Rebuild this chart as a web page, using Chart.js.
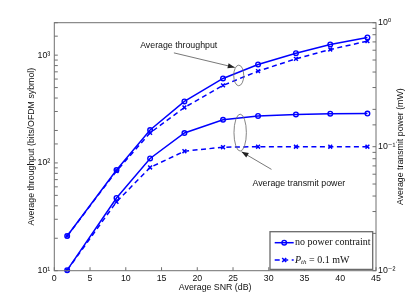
<!DOCTYPE html>
<html>
<head>
<meta charset="utf-8">
<script src="https://cdn.jsdelivr.net/npm/chart.js@4/dist/chart.umd.min.js"></script>
<style>
html,body{margin:0;padding:0;background:#fff}
#wrap{width:415px;height:306px}
</style>
</head>
<body>
<div id="wrap"><canvas id="myChart"></canvas></div>
<script>
// SNR (dB) of each simulated point
const snr = [1.8, 8.7, 13.4, 18.2, 23.6, 28.5, 33.8, 38.6, 43.8]
// throughput, bits/OFDM symbol (left axis)
const thr_free = [21, 86, 202, 372, 608, 820, 1043, 1257, 1459]
const thr_cap  = [21, 84, 190, 327, 524, 711, 924, 1129, 1349]
// transmit power, mW (right axis)
const pow_free = [0.0101, 0.0386, 0.0804, 0.129, 0.165, 0.177, 0.182, 0.1845, 0.185]
const pow_cap  = [0.0101, 0.0359, 0.068, 0.092, 0.099, 0.1, 0.1, 0.1, 0.1]

const legend_labels = ['no power contraint', 'P_th = 0.1 mW']
const x_title = 'Average SNR (dB)'
const y_title = 'Average throughput (bits/OFDM sybmol)'
const y1_title = 'Average transmit power (mW)'

const BLUE = '#0000ff'
const SANS = '"Liberation Sans", Arial, "DejaVu Sans", sans-serif'
const SERIF = '"Liberation Serif", "DejaVu Serif", serif'

const sup = {'-':'\u207B','0':'\u2070','1':'\u00B9','2':'\u00B2','3':'\u00B3'}
function pow_label(v){
    const e = Math.log10(v)
    if (Math.abs(e - Math.round(e)) > 1e-6) return ''
    return '10' + String(Math.round(e)).split('').map(c => sup[c]).join('')
}
function pts(ys){ return snr.map((x, i) => ({x: x, y: ys[i]})) }

function line_set(label, ys, axis, dashed){
    return {
        label: label,
        data: pts(ys),
        yAxisID: axis,
        borderColor: BLUE,
        backgroundColor: BLUE,
        borderWidth: 1.5,
        borderDash: dashed ? [5, 3.5] : [],
        pointStyle: dashed ? 'crossRot' : 'circle',
        pointRadius: dashed ? 2.7 : 2.3,
        pointBorderWidth: dashed ? 1.5 : 1.4,
        pointBackgroundColor: 'rgba(0,0,0,0)',
        pointBorderColor: BLUE,
        tension: 0,
        clip: false,
    }
}

// little helpers for the annotations (data coords on x / left y)
const notes = {
    thr_text: [17.4, 1219],
    thr_arrow: [[16.73, 1050], [25.25, 769]],
    thr_ellipse: [25.8, 648, 5, 10.3],
    pow_text: [27.72, 63.7],
    pow_arrow: [[30.38, 87.1], [26.19, 126.9]],
    pow_ellipse: [26.0, 191, 6.2, 18.5],
}

function arrow(ctx, x0, y0, x1, y1){
    ctx.beginPath()
    ctx.moveTo(x0, y0); ctx.lineTo(x1, y1)
    ctx.stroke()
    const a = Math.atan2(y1 - y0, x1 - x0)
    const L = 7, W = 2.6
    ctx.beginPath()
    ctx.moveTo(x1, y1)
    ctx.lineTo(x1 - L*Math.cos(a) + W*Math.sin(a), y1 - L*Math.sin(a) - W*Math.cos(a))
    ctx.lineTo(x1 - L*Math.cos(a) - W*Math.sin(a), y1 - L*Math.sin(a) + W*Math.cos(a))
    ctx.closePath()
    ctx.fill()
}

const decor = {
    id: 'decor',
    afterDraw(chart){
        const {ctx, chartArea: a, scales} = chart
        const sx = scales.x, sy = scales.y, sy1 = scales.y1
        ctx.save()

        // frame + inward ticks
        ctx.strokeStyle = '#707070'
        ctx.lineWidth = 1
        ctx.strokeRect(a.left, a.top, a.right - a.left, a.bottom - a.top)
        ctx.beginPath()
        sx.ticks.forEach(t => {
            const p = sx.getPixelForValue(t.value)
            ctx.moveTo(p, a.bottom); ctx.lineTo(p, a.bottom - 3.5)
        })
        sy.ticks.forEach(t => {
            const p = sy.getPixelForValue(t.value)
            ctx.moveTo(a.left, p); ctx.lineTo(a.left + 3.5, p)
        })
        sy1.ticks.forEach(t => {
            const p = sy1.getPixelForValue(t.value)
            ctx.moveTo(a.right, p); ctx.lineTo(a.right - 3.5, p)
        })
        ctx.stroke()

        // axis titles
        ctx.fillStyle = '#111'
        ctx.font = '8.8px ' + SANS
        ctx.textAlign = 'center'
        ctx.textBaseline = 'middle'
        ctx.fillText(x_title, (a.left + a.right) / 2, 288)
        ctx.save()
        ctx.translate(32, (a.top + a.bottom) / 2)
        ctx.rotate(-Math.PI / 2)
        ctx.fillText(y_title, 0, 0)
        ctx.restore()
        ctx.save()
        ctx.translate(401, (a.top + a.bottom) / 2)
        ctx.rotate(-Math.PI / 2)
        ctx.fillText(y1_title, 0, 0)
        ctx.restore()

        // annotations
        const X = v => sx.getPixelForValue(v), Y = v => sy.getPixelForValue(v)
        ctx.fillStyle = '#111'
        ctx.textAlign = 'center'
        ctx.fillText('Average throughput', X(notes.thr_text[0]), Y(notes.thr_text[1]))
        ctx.textAlign = 'left'
        ctx.fillText('Average transmit power', X(notes.pow_text[0]), Y(notes.pow_text[1]))

        ctx.strokeStyle = '#555'
        ctx.fillStyle = '#222'
        ctx.lineWidth = 0.8
        let p = notes.thr_arrow
        arrow(ctx, X(p[0][0]), Y(p[0][1]), X(p[1][0]), Y(p[1][1]))
        p = notes.pow_arrow
        arrow(ctx, X(p[0][0]), Y(p[0][1]), X(p[1][0]), Y(p[1][1]))

        ctx.strokeStyle = '#666'
        ;[notes.thr_ellipse, notes.pow_ellipse].forEach(e => {
            ctx.beginPath()
            ctx.ellipse(X(e[0]), Y(e[1]), e[2], e[3], 0, 0, 2 * Math.PI)
            ctx.stroke()
        })

        // legend box
        const bx = a.right - 106, by = a.bottom - 39, bw = 102.7, bh = 37.7
        ctx.fillStyle = '#fff'
        ctx.fillRect(bx, by, bw, bh)
        ctx.strokeStyle = '#6a6a6a'
        ctx.lineWidth = 1.3
        ctx.strokeRect(bx, by, bw, bh)

        const rows = [by + 11, by + 28.3]
        rows.forEach((ry, i) => {
            ctx.strokeStyle = BLUE
            ctx.lineWidth = 1.5
            ctx.setLineDash(i ? [5, 3.5] : [])
            ctx.beginPath()
            ctx.moveTo(bx + 4.7, ry); ctx.lineTo(bx + 23.7, ry)
            ctx.stroke()
            ctx.setLineDash([])
            const mx = bx + 14.2
            ctx.beginPath()
            if (i == 0){
                ctx.lineWidth = 1.4
                ctx.arc(mx, ry, 2.3, 0, 2 * Math.PI)
            } else {
                const r = 2
                ctx.moveTo(mx - r, ry - r); ctx.lineTo(mx + r, ry + r)
                ctx.moveTo(mx - r, ry + r); ctx.lineTo(mx + r, ry - r)
            }
            ctx.stroke()
        })
        ctx.fillStyle = '#111'
        ctx.textAlign = 'left'
        ctx.textBaseline = 'middle'
        ctx.font = '10px ' + SERIF
        ctx.fillText(legend_labels[0], bx + 25, rows[0])
        // P with subscript th
        let tx = bx + 25
        ctx.font = 'italic 10px ' + SERIF
        ctx.fillText('P', tx, rows[1])
        tx += ctx.measureText('P').width
        ctx.font = 'italic 7px ' + SERIF
        ctx.fillText('th', tx, rows[1] + 2.5)
        tx += ctx.measureText('th').width
        ctx.font = '10px ' + SERIF
        ctx.fillText(' = 0.1 mW', tx, rows[1])

        ctx.restore()
    }
}

const tick_font = {family: SANS, size: 8.8}

const chart = new Chart(document.getElementById('myChart'), {
    type: 'line',
    data: {
        datasets: [
            line_set(legend_labels[0], thr_free, 'y', false),
            line_set(legend_labels[1], thr_cap, 'y', true),
            line_set(legend_labels[0], pow_free, 'y1', false),
            line_set(legend_labels[1], pow_cap, 'y1', true),
        ]
    },
    options: {
        responsive: true,
        maintainAspectRatio: false,
        animation: false,
        layout: {padding: {top: 22.7, left: 0, right: 0, bottom: 0}},
        scales: {
            x: {
                type: 'linear',
                min: 0, max: 45,
                ticks: {stepSize: 5, font: tick_font, color: '#111', padding: 3, maxRotation: 0},
                grid: {display: false, drawTicks: false},
                border: {display: false},
                afterFit: s => { s.height = 35.3 },
            },
            y: {
                type: 'logarithmic',
                position: 'left',
                min: 10, max: 2000,
                ticks: {callback: v => pow_label(v), autoSkip: false, font: tick_font, color: '#111', padding: 4},
                grid: {display: false, drawTicks: false},
                border: {display: false},
                afterFit: s => { s.width = 54.3 },
            },
            y1: {
                type: 'logarithmic',
                position: 'right',
                min: 0.01, max: 1,
                ticks: {callback: v => pow_label(v), autoSkip: false, font: tick_font, color: '#111', padding: 2},
                grid: {display: false, drawTicks: false},
                border: {display: false},
                afterFit: s => { s.width = 39 },
            },
        },
        plugins: {
            legend: {display: false},
            tooltip: {enabled: false},
        }
    },
    plugins: [decor]
})
</script>
</body>
</html>
